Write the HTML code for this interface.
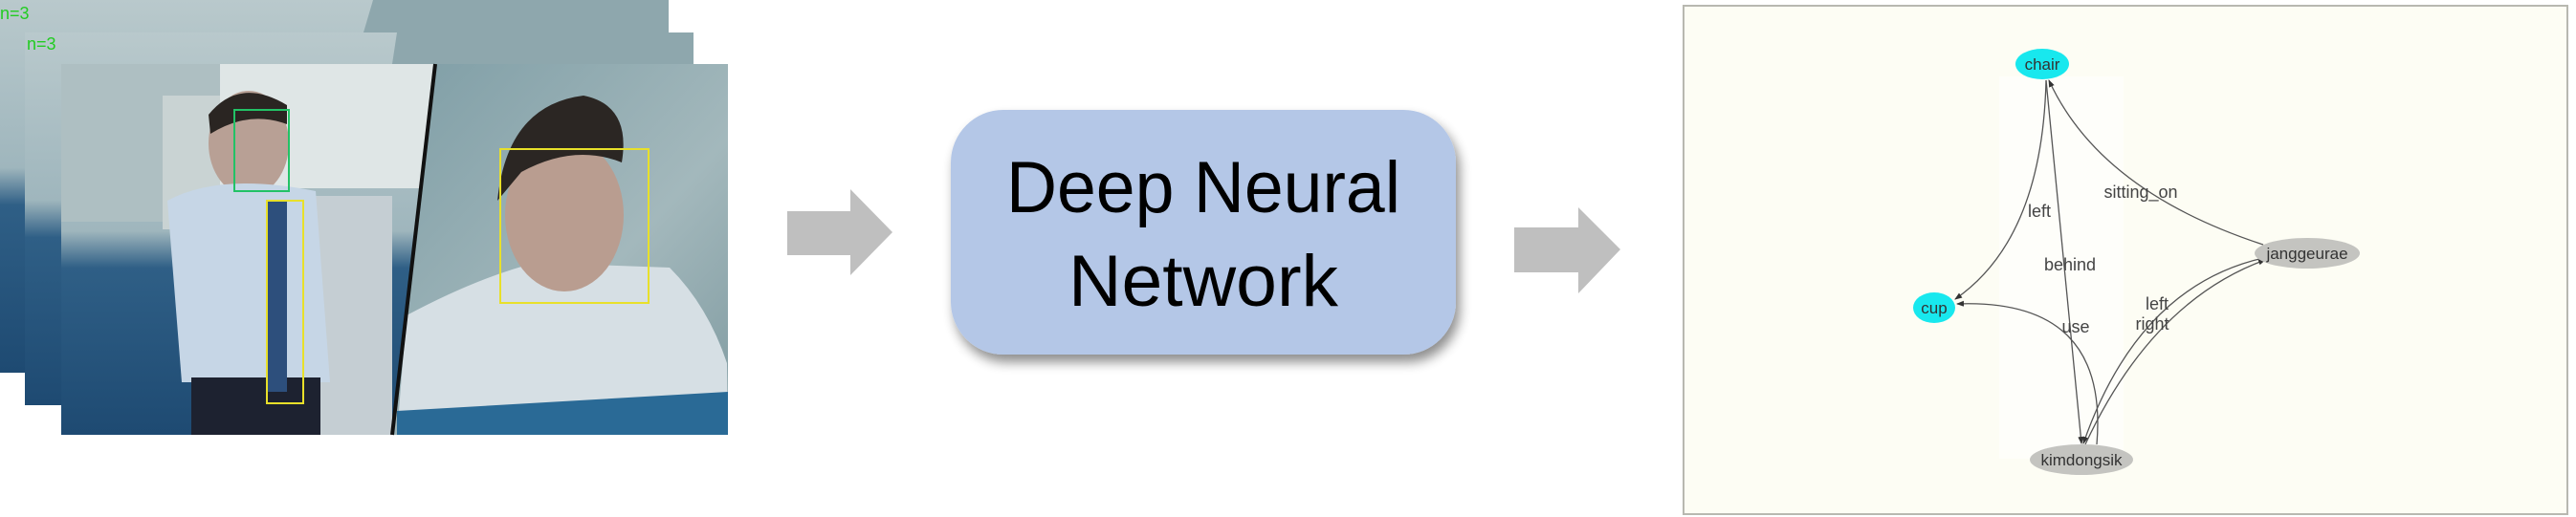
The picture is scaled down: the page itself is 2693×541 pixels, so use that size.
<!DOCTYPE html>
<html><head><meta charset="utf-8"><style>
html,body{margin:0;padding:0;background:#fff;}
svg{display:block;}
</style></head><body>
<svg width="2693" height="541" viewBox="0 0 2693 541" xmlns="http://www.w3.org/2000/svg">
<defs>
<linearGradient id="bg1" x1="0" y1="0" x2="0" y2="1">
<stop offset="0" stop-color="#b9c9cc"/><stop offset="0.45" stop-color="#9fb6bd"/><stop offset="0.55" stop-color="#2f5f86"/><stop offset="1" stop-color="#1e4a72"/></linearGradient>
<linearGradient id="bg2" x1="0" y1="0" x2="1" y2="1">
<stop offset="0" stop-color="#7f9ea6"/><stop offset="0.6" stop-color="#a3b8bc"/><stop offset="1" stop-color="#7f9aa0"/></linearGradient>
<filter id="sh" x="-10%" y="-10%" width="125%" height="130%"><feGaussianBlur in="SourceAlpha" stdDeviation="6"/><feOffset dx="4" dy="8"/><feComponentTransfer><feFuncA type="linear" slope="0.45"/></feComponentTransfer><feMerge><feMergeNode/><feMergeNode in="SourceGraphic"/></feMerge></filter>
<marker id="ah" markerWidth="8" markerHeight="8" refX="7" refY="3" orient="auto" markerUnits="userSpaceOnUse"><path d="M0,0 L8,3 L0,6 z" fill="#333"/></marker>
</defs>

<rect x="0" y="0" width="699" height="390" fill="url(#bg1)"/>
<polygon points="390,0 699,0 699,34 380,34" fill="#8ea7ad"/>
<rect x="26" y="34" width="699" height="390" fill="url(#bg1)"/>
<polygon points="415,34 725,34 725,67 410,67" fill="#8ea7ad"/>
<text x="0" y="20" font-family="Liberation Sans,sans-serif" font-size="18" fill="#2c2">n=3</text>
<text x="28" y="52" font-family="Liberation Sans,sans-serif" font-size="18" fill="#2c2">n=3</text>

<rect x="64" y="67" width="697" height="388" fill="url(#bg1)"/>
<rect x="64" y="67" width="240" height="165" fill="#aebfc2"/>
<rect x="170" y="100" width="130" height="140" fill="#c9d3d3"/>
<rect x="230" y="67" width="230" height="130" fill="#dfe6e6"/>
<rect x="300" y="205" width="110" height="250" fill="#c5ced3"/>
<ellipse cx="260" cy="150" rx="42" ry="55" fill="#b8a095"/>
<path d="M218,120 Q250,80 300,110 L300,130 Q260,115 220,140 z" fill="#2a2522"/>
<path d="M175,210 Q230,180 330,200 L345,400 L190,400 z" fill="#c6d6e6"/>
<rect x="200" y="395" width="135" height="60" fill="#1d2230"/>
<rect x="280" y="210" width="20" height="200" fill="#2d4f7c"/>
<rect x="245" y="115" width="57" height="85" fill="none" stroke="#22c266" stroke-width="2"/>
<rect x="279" y="210" width="38" height="212" fill="none" stroke="#e8e02a" stroke-width="2"/>
<polygon points="455,67 761,67 761,455 410,455" fill="url(#bg2)"/>
<path d="M425,330 Q500,290 560,275 L700,280 Q740,320 760,380 L761,455 L415,455 z" fill="#d6dfe4"/>
<path d="M415,430 L761,410 L761,455 L415,455 z" fill="#2a6a96"/>
<ellipse cx="590" cy="225" rx="62" ry="80" fill="#b99d90"/>
<path d="M520,210 Q530,110 610,100 Q660,110 650,170 Q600,150 545,180 z" fill="#2b2623"/>
<rect x="523" y="156" width="155" height="161" fill="none" stroke="#e8e02a" stroke-width="2"/>
<line x1="455" y1="67" x2="410" y2="455" stroke="#111" stroke-width="4"/>

<polygon points="823,221 889,221 889,198 933,243 889,288 889,267 823,267" fill="#bfbfbf"/>
<polygon points="1583,238 1650,238 1650,217 1694,261 1650,307 1650,285 1583,285" fill="#bfbfbf"/>

<rect x="994" y="115" width="528" height="256" rx="55" ry="55" fill="#b4c7e7" filter="url(#sh)"/>
<text x="1258" y="222" text-anchor="middle" font-family="Liberation Sans,sans-serif" font-size="76" textLength="412" lengthAdjust="spacingAndGlyphs" fill="#000">Deep Neural</text>
<text x="1258" y="320" text-anchor="middle" font-family="Liberation Sans,sans-serif" font-size="76" textLength="282" lengthAdjust="spacingAndGlyphs" fill="#000">Network</text>

<rect x="1760" y="6" width="924" height="532" fill="#fdfdf4" stroke="#b8b8b0" stroke-width="2"/>
<rect x="2090" y="80" width="130" height="400" fill="#fefefa"/>
<g fill="none" stroke="#555" stroke-width="1.3">
<path d="M2139,84 Q2135,250 2044,313" marker-end="url(#ah)"/>
<path d="M2139,84 L2176,464" marker-end="url(#ah)"/>
<path d="M2366,256 Q2195,200 2142,84" marker-end="url(#ah)"/>
<path d="M2192,465 Q2205,312 2046,318" marker-end="url(#ah)"/>
<path d="M2366,270 Q2235,300 2178,464" marker-end="url(#ah)"/>
<path d="M2180,465 Q2250,315 2368,272" marker-end="url(#ah)"/>
</g>
<g font-family="Liberation Sans,sans-serif" font-size="18" fill="#444" text-anchor="middle">
<text x="2238" y="207">sitting_on</text>
<text x="2132" y="227">left</text>
<text x="2164" y="283">behind</text>
<text x="2170" y="348">use</text>
<text x="2255" y="324">left</text>
<text x="2250" y="345">right</text>
</g>
<ellipse cx="2135" cy="67" rx="28" ry="16" fill="#18e8ee"/>
<ellipse cx="2022" cy="322" rx="22" ry="16" fill="#18e8ee"/>
<ellipse cx="2412" cy="265" rx="55" ry="16" fill="#c4c4c0"/>
<ellipse cx="2176" cy="481" rx="54" ry="16" fill="#c4c4c0"/>
<g font-family="Liberation Sans,sans-serif" font-size="17" fill="#333" text-anchor="middle">
<text x="2135" y="73">chair</text>
<text x="2022" y="328">cup</text>
<text x="2412" y="271">janggeurae</text>
<text x="2176" y="487">kimdongsik</text>
</g>
</svg>
</body></html>
